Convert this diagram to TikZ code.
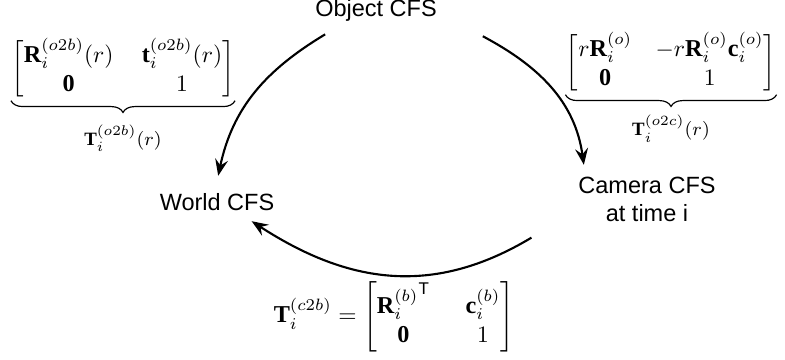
\documentclass[tikz,border=0pt]{standalone}
\usepackage{amsmath}
\usepackage{fontspec}
\setmainfont{Liberation Serif}
\setsansfont{Liberation Sans}
\usetikzlibrary{arrows.meta,positioning,decorations.pathreplacing}

\begin{document}
\begin{tikzpicture}[x=0.4255pt,y=0.4255pt,
   cfs/.style={font=\sffamily,align=center,inner sep=2pt},
   mat/.style={inner sep=0pt,font=\fontsize{10.3pt}{12.4pt}\selectfont},
   lbl/.style={font=\footnotesize,inner sep=0pt},
   brc/.style={decorate,decoration={brace,amplitude=5pt},line width=0.5pt},
   ln/.style={line width=0.9pt,-{Stealth[length=7pt,width=5.5pt,inset=2.5pt]}}
]
\useasboundingbox (0,0) rectangle (785,-359);

% Coordinate frames
\node[cfs] (O) at (376,-10) {Object CFS};
\node[cfs] (W) at (217,-202) {World CFS};
\node[cfs] (C) at (647,-199) {Camera CFS\\at time i};

% Object to world
\node[mat] (M1) at (123,-69) {$\arraycolsep=6pt\begin{bmatrix}\mathbf{R}_i^{(o2b)}(r) & \mathbf{t}_i^{(o2b)}(r)\\ \mathbf{0} & 1\end{bmatrix}$};
\draw[brc] (M1.south east) -- (M1.south west)
   node[lbl,midway,below=10pt] (L1) {$\mathbf{T}_i^{(o2b)}(r)$};

% Object to camera
\node[mat] (M2) at (671,-63) {$\begin{bmatrix} r\mathbf{R}_i^{(o)} & -r\mathbf{R}_i^{(o)}\mathbf{c}_i^{(o)}\\ \mathbf{0} & 1\end{bmatrix}$};
\draw[brc] (M2.south east) -- (M2.south west)
   node[lbl,midway,below=8.5pt] (L2) {$\mathbf{T}_i^{(o2c)}(r)$};

% Camera to world
\node[mat] (M3) at (394,-317) {$\mathbf{T}_i^{(c2b)} = \begin{bmatrix}{\mathbf{R}_i^{(b)}}^{\mathsf{T}} & \enspace\mathbf{c}_i^{(b)}\\ \mathbf{0} & \enspace 1\end{bmatrix}$};

\draw[ln] ([xshift=6.4pt,yshift=-3.5pt]O.south west) to[out=211,in=78] ([xshift=0.5pt,yshift=5.3pt]W.north);
\draw[ln] ([xshift=17.4pt,yshift=-4.3pt]O.south east) to[out=-28,in=98] ([xshift=4.5pt,yshift=2.8pt]C.north west);
\draw[ln] ([xshift=-17.8pt,yshift=-4.7pt]C.south west) to[out=211,in=-33,looseness=1.05] ([xshift=-11.8pt,yshift=-2.3pt]W.south east);

\end{tikzpicture}
\end{document}
